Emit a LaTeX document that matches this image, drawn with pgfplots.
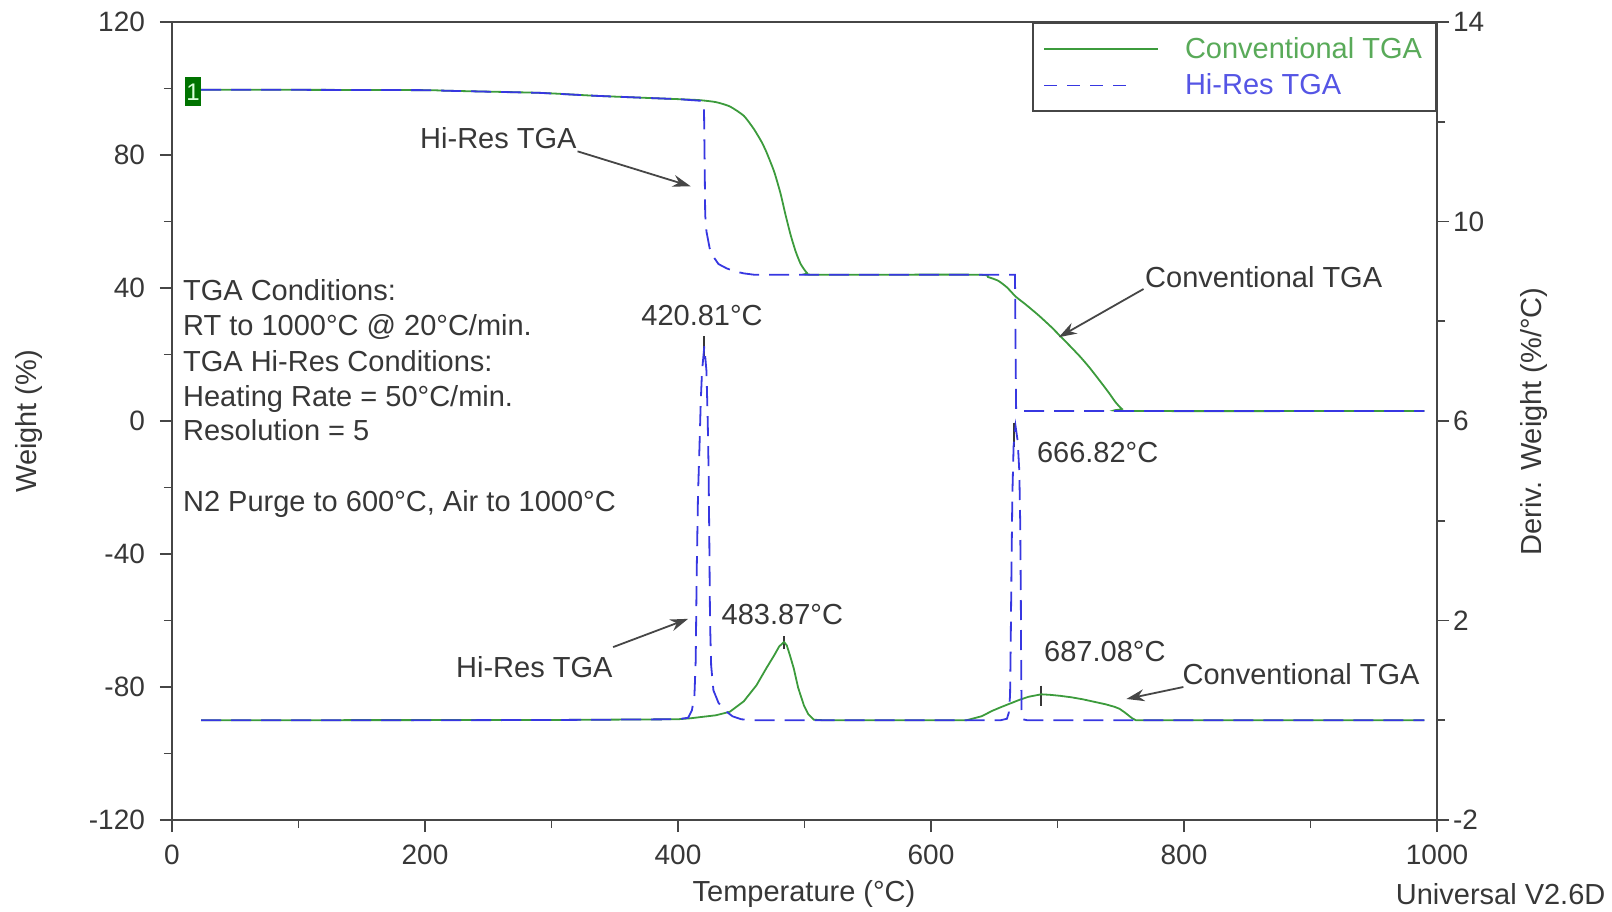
\documentclass[border=0pt]{standalone}
\usepackage{pgfplots}
\pgfplotsset{compat=1.18}
\usepackage{fontspec}
\setmainfont{Liberation Sans}
\usetikzlibrary{arrows.meta}
\definecolor{cgreen}{RGB}{60,155,60}
\definecolor{cblue}{RGB}{55,55,225}
\definecolor{tgray}{RGB}{55,55,55}
\definecolor{agray}{RGB}{70,70,70}
\pgfplotsset{hiresleg/.style={legend image code/.code={\draw[##1, dash pattern=on 6.5pt off 5pt] (0pt,0pt) -- (44pt,0pt);}}}

\pgfplotstableread{
T w
23 99.6
100 99.6
200 99.5
220 99.3
290 98.7
335 97.8
380 97.1
400 96.8
417 96.5
430 95.9
441 94.6
452 91.8
460 87.8
466 84.0
470 80.8
476 75
481 68.5
485 62
489 56
493 51
497 47.2
502 44.5
507 44.0
636 44.0
645 43.3
653 42.2
660 40.2
667 37.4
675 35.0
685 31.8
695 28.3
702 25.6
710 22.5
718 19.3
725 16.2
732 12.8
740 8.8
746 5.6
751 3.6
756 3.0
990 3.0
}\convW

\pgfplotstableread{
T w
23 99.6
100 99.6
200 99.5
220 99.3
290 98.7
335 97.8
380 97.1
400 96.8
418 96.3
420.5 95.5
421 80
421.5 62
422.5 57
425 52
428 49.4
432 47.2
438.5 45.9
445 45
452 44.4
460 44.0
666.4 44.0
666.9 20
667.3 3.0
990 3.0
}\hiresW

\pgfplotstableread{
T d
23 0
300 0.005
400 0.02
410 0.04
420 0.07
430 0.1
441 0.17
452 0.38
462 0.7
470 1.05
476 1.3
480 1.48
483.87 1.57
486 1.5
488.5 1.3
491.5 1.04
495 0.65
499.5 0.3
503 0.12
507.5 0.01
515 0
628 0
640 0.08
648.5 0.19
656 0.27
663 0.34
670 0.41
677 0.47
687.08 0.52
694 0.51
702 0.49
711 0.46
720 0.42
729 0.37
738 0.32
745 0.27
749 0.23
753 0.16
756 0.1
759 0.04
762 0
990 0
}\convD

\pgfplotstableread{
T d
23 0
200 0
300 0.005
400 0.02
408 0.05
411 0.2
413 0.5
414 1.2
414.8 3.0
415.8 4.5
417 5.5
418 6.4
419 7.0
420.81 7.5
422.5 7.0
423.5 6.0
424.2 5.0
424.8 3.5
425.3 2.0
426.2 1.1
428 0.6
432 0.35
437 0.2
443 0.08
450 0.02
458 0
655 0
660 0.03
661.5 0.15
662.5 0.5
663 1.5
663.6 3.0
664.3 4.5
665.3 5.5
666.82 5.9
668.5 5.6
669.8 5.0
670.5 4.0
671 2.5
671.3 1.0
671.6 0.2
672.5 0.02
676 0
990 0
}\hiresD

\begin{document}
\begin{tikzpicture}
\begin{axis}[
  name=ax1,
  scale only axis, width=632.5pt, height=399pt,
  xmin=0, xmax=1000, ymin=-120, ymax=120,
  xtick={0,200,...,1000}, minor xtick={100,300,...,900},
  ytick={-120,-80,...,120}, minor ytick={-100,-60,...,100},
  xtick pos=bottom, ytick pos=left, tick align=outside,
  major tick length=6pt, minor tick length=4pt,
  every tick/.style={agray, line width=0.9pt},
  axis line style={agray, line width=1pt},
  tick label style={font=\fontsize{14}{14}\selectfont, text=tgray},
  xticklabel style={yshift=-3pt},
  yticklabel style={xshift=-4pt},
  /pgf/number format/assume math mode=true,
  /pgf/number format/1000 sep={},
  scaled ticks=false,
  clip=false,
  legend style={at={(1,1)}, anchor=north east, draw=agray, line width=1pt,
    fill=white, inner xsep=5pt, inner ysep=5pt,
    font=\fontsize{14.5}{14.5}\selectfont, row sep=2.2pt,
    /tikz/every odd column/.append style={column sep=11pt}},
  legend cell align=left,
  legend image code/.code={\draw[#1] (0pt,0pt) -- (57pt,0pt);},
]
\addplot[cgreen, line width=0.9pt, smooth, tension=0.35] table[x=T,y=w] {\convW};
\addlegendentry{\textcolor{cgreen!85!white}{Conventional TGA}}
\addplot[cblue, line width=0.9pt, dash pattern=on 10pt off 5pt, hiresleg] table[x=T,y=w] {\hiresW};
\addlegendentry{\textcolor{cblue!85!white}{Hi-Res TGA}}

% sample marker
\node[fill=green!45!black, text=green!15!white, inner sep=0pt, minimum width=7.75pt, minimum height=14.5pt, font=\fontsize{12}{12}\selectfont] at (axis cs:16.7,99) {1};

% conditions text
\begin{scope}[every node/.style={anchor=base west, text=tgray, inner sep=0pt, font=\fontsize{14.5}{14.5}\selectfont}]
\node at (axis cs:8.5,36.1) {TGA Conditions:};
\node at (axis cs:8.5,25.6) {RT to 1000°C @ 20°C/min.};
\node at (axis cs:8.5,15.0) {TGA Hi-Res Conditions:};
\node at (axis cs:8.5,4.5) {Heating Rate = 50°C/min.};
\node at (axis cs:8.5,-6.0) {Resolution = 5};
\node at (axis cs:8.5,-27.1) {N2 Purge to 600°C, Air to 1000°C};
\end{scope}

% annotations
\begin{scope}[every node/.style={text=tgray, inner sep=0pt, font=\fontsize{14.5}{14.5}\selectfont}]
\node[anchor=base] at (axis cs:258,82) {Hi-Res TGA};
\node[anchor=base] at (axis cs:863,40.3) {Conventional TGA};
\node[anchor=base] at (axis cs:419,28.6) {420.81°C};
\node[anchor=base west] at (axis cs:683.5,-12.5) {666.82°C};
\node[anchor=base] at (axis cs:482.5,-61.3) {483.87°C};
\node[anchor=base] at (axis cs:286.4,-77.1) {Hi-Res TGA};
\node[anchor=base west] at (axis cs:689.2,-72.4) {687.08°C};
\node[anchor=base] at (axis cs:892.6,-79.2) {Conventional TGA};
\end{scope}
\begin{scope}[agray, line width=0.9pt, -{Stealth[length=9pt,width=6pt]}]
\draw (axis cs:320.6,81.1) -- (axis cs:410,70.6);
\draw (axis cs:768,39.7) -- (axis cs:701,25.2);
\draw (axis cs:348.7,-68.0) -- (axis cs:408,-59.5);
\draw (axis cs:799.5,-80.0) -- (axis cs:754.5,-83.6);
\end{scope}
\begin{scope}[tgray, line width=0.9pt]
\draw (axis cs:420.81,18.5) -- (axis cs:420.81,25.5);
\draw (axis cs:665.5,-0.5) -- (axis cs:665.5,-7.9);
\draw (axis cs:483.87,-64.7) -- (axis cs:483.87,-68.7);
\draw (axis cs:687.08,-79.6) -- (axis cs:687.08,-85.7);
\end{scope}
\end{axis}

\begin{axis}[
  scale only axis, width=632.5pt, height=399pt,
  xmin=0, xmax=1000, ymin=-2, ymax=14,
  axis x line=none, axis y line*=right,
  ytick={-2,2,...,14}, minor ytick={0,4,8,12},
  tick align=outside,
  major tick length=6pt, minor tick length=4pt,
  every tick/.style={agray, line width=0.9pt},
  axis line style={agray, line width=1pt},
  tick label style={font=\fontsize{14}{14}\selectfont, text=tgray},
  yticklabel style={xshift=-1.5pt},
  /pgf/number format/assume math mode=true,
  scaled ticks=false,
]
\addplot[cgreen, line width=0.9pt] table[x=T,y=d] {\convD};
\addplot[cblue, line width=0.9pt, dash pattern=on 10pt off 5pt] table[x=T,y=d] {\hiresD};
\end{axis}

\begin{scope}[every node/.style={text=tgray, inner sep=0pt, font=\fontsize{14.5}{14.5}\selectfont}]
\node[rotate=90] at ([shift={(-71.6pt,199.3pt)}]ax1.south west) {Weight (\%)};
\node[rotate=90] at ([shift={(680.9pt,199.3pt)}]ax1.south west) {Deriv. Weight (\%/°C)};
\node at ([shift={(316pt,-37.2pt)}]ax1.south west) {Temperature (°C)};
\node[anchor=east] at ([shift={(716.9pt,-37.2pt)}]ax1.south west) {Universal V2.6D};
\end{scope}

\pgfresetboundingbox
\useasboundingbox ([shift={(-86pt,-45.5pt)}]ax1.south west) rectangle ([shift={(87.5pt,11pt)}]ax1.north east);
\end{tikzpicture}
\end{document}
